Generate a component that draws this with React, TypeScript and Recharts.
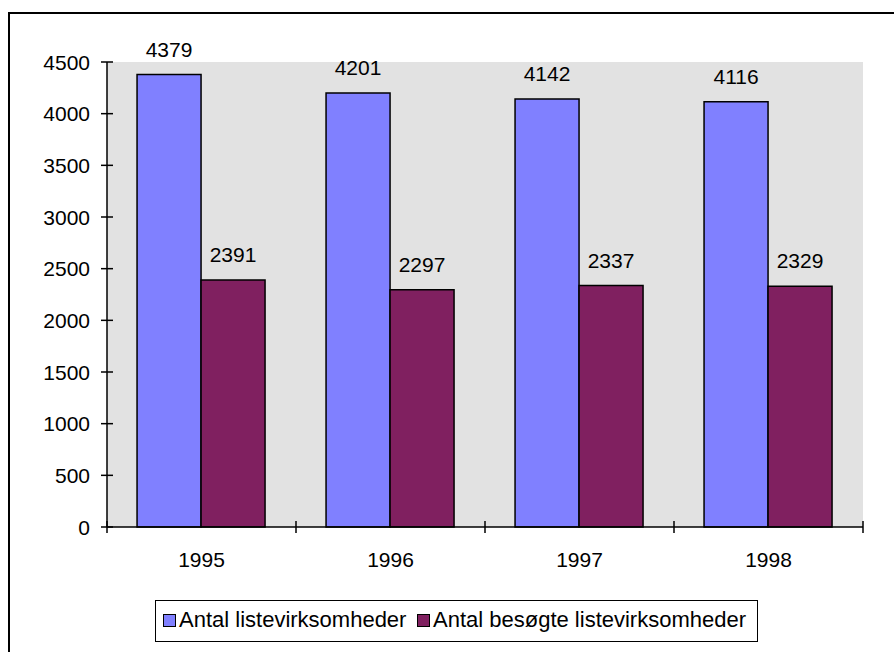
import React from 'react';
import { BarChart, Bar, XAxis, YAxis, CartesianGrid, LabelList } from 'recharts';

const years = ['1995', '1996', '1997', '1998'];
const listevirksomheder = [4379, 4201, 4142, 4116];
const besogte = [2391, 2297, 2337, 2329];
const yTicks = [0, 500, 1000, 1500, 2000, 2500, 3000, 3500, 4000, 4500];
const seriesNames = ['Antal listevirksomheder', 'Antal besøgte listevirksomheder'];
const colors = ['#8080FF', '#802060'];

const data = years.map((y, i) => ({ year: y, a: listevirksomheder[i], b: besogte[i] }));

const W = 894;
const H = 652;
const PLOT_LEFT = 107;
const PLOT_RIGHT = 863;
const PLOT_TOP = 62;
const PLOT_BOTTOM = 527;
const Y_AXIS_W = 60;
const X_AXIS_H = 30;
const BAND = (PLOT_RIGHT - PLOT_LEFT) / years.length;
const FONT = '"Liberation Sans", Arial, sans-serif';
const FS = 21;
const LEGEND_FS = 22;

const YTick = (props: any) => {
  const { x, y, payload } = props;
  return (
    <g>
      <line x1={x - 6} x2={x + 6} y1={y} y2={y} stroke="#000" strokeWidth={1.5} />
      <text x={x - 17} y={y} dy="0.36em" textAnchor="end" fontFamily={FONT} fontSize={FS} fill="#000">
        {payload.value}
      </text>
    </g>
  );
};

const XTick = (props: any) => {
  const { x, y, payload, index } = props;
  const left = x - BAND / 2;
  return (
    <g>
      <line x1={left} x2={left} y1={y - 6} y2={y + 6} stroke="#000" strokeWidth={1.5} />
      {index === years.length - 1 && (
        <line x1={x + BAND / 2} x2={x + BAND / 2} y1={y - 6} y2={y + 6} stroke="#000" strokeWidth={1.5} />
      )}
      <text x={x} y={y + 25} dy="0.71em" textAnchor="middle" fontFamily={FONT} fontSize={FS} fill="#000">
        {payload.value}
      </text>
    </g>
  );
};

export default function App() {
  return (
    <div style={{ position: 'absolute', left: 0, top: 0, width: W, height: H, background: '#fff', overflow: 'hidden' }}>
      <div style={{ position: 'absolute', left: 8, top: 12, width: W, height: 2, background: '#000' }} />
      <div style={{ position: 'absolute', left: 8, top: 12, width: 2, height: H, background: '#000' }} />
      <div style={{ position: 'absolute', left: 0, top: 0 }}>
        <BarChart
          width={W}
          height={H}
          data={data}
          margin={{ top: PLOT_TOP, right: W - PLOT_RIGHT, bottom: H - PLOT_BOTTOM - X_AXIS_H, left: PLOT_LEFT - Y_AXIS_W }}
          barCategoryGap="15.9%"
          barGap={0}
        >
          <CartesianGrid horizontal={false} vertical={false} fill="#E2E2E2" stroke="none" />
          <XAxis
            dataKey="year"
            height={X_AXIS_H}
            axisLine={{ stroke: '#000', strokeWidth: 1.5 }}
            tickLine={false}
            tickSize={0}
            tickMargin={0}
            tick={<XTick />}
            interval={0}
          />
          <YAxis
            width={Y_AXIS_W}
            domain={[0, 4500]}
            ticks={yTicks}
            axisLine={{ stroke: '#000', strokeWidth: 1.5 }}
            tickLine={false}
            tickSize={0}
            tickMargin={0}
            tick={<YTick />}
            interval={0}
          />
          <Bar dataKey="a" name={seriesNames[0]} fill={colors[0]} stroke="#000" strokeWidth={1.5} isAnimationActive={false}>
            <LabelList dataKey="a" position="top" offset={18} fill="#000" fontSize={FS} fontFamily={FONT} />
          </Bar>
          <Bar dataKey="b" name={seriesNames[1]} fill={colors[1]} stroke="#000" strokeWidth={1.5} isAnimationActive={false}>
            <LabelList dataKey="b" position="top" offset={18} fill="#000" fontSize={FS} fontFamily={FONT} />
          </Bar>
        </BarChart>
      </div>
      <div
        style={{
          position: 'absolute',
          left: 155,
          top: 600,
          width: 603,
          height: 42,
          boxSizing: 'border-box',
          border: '1.5px solid #000',
          background: '#fff',
          fontFamily: FONT,
          fontSize: LEGEND_FS,
          color: '#000',
        }}
      >
        {[
          { m: 7, t: 23 },
          { m: 261, t: 277 },
        ].map((p, i) => (
          <React.Fragment key={i}>
            <div
              style={{
                position: 'absolute',
                left: p.m,
                top: 13,
                width: 13,
                height: 13,
                boxSizing: 'border-box',
                border: '1.5px solid #000',
                background: colors[i],
              }}
            />
            <div style={{ position: 'absolute', left: p.t, top: 6, lineHeight: '26px', whiteSpace: 'nowrap' }}>
              {seriesNames[i]}
            </div>
          </React.Fragment>
        ))}
      </div>
    </div>
  );
}
